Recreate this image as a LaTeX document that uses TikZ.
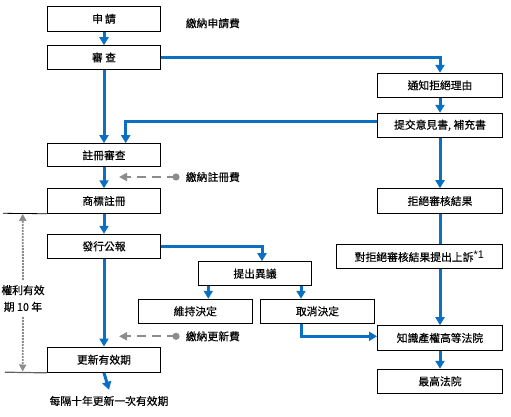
\documentclass[tikz,border=0pt]{standalone}
\usepackage{fontspec}
\setmainfont{Noto Sans CJK TC}[FakeBold=0.35]
\newfontfamily\supfont{Liberation Sans}
\usetikzlibrary{arrows.meta,calc}
\definecolor{fblue}{HTML}{0A70C4}
\definecolor{fgrey}{HTML}{8C8C8C}
\definecolor{dgrey}{HTML}{606060}
\begin{document}
\begin{tikzpicture}[x=1pt,y=-1pt,
  box/.style={draw=black,line width=1pt,fill=white,minimum height=24.5pt,inner sep=0pt,font=\fontsize{10.8}{12}\selectfont},
  flow/.style={draw=fblue,line width=3pt,-{Triangle[width=9pt,length=8pt]}},
  flowline/.style={draw=fblue,line width=3pt},
  fee/.style={draw=fgrey,line width=2pt,dash pattern=on 9pt off 6pt,-{Triangle[width=8pt,length=8pt]}},
  feedot/.style={fill=fgrey},
  lifeline/.style={draw=fgrey,line width=1.8pt,dash pattern=on 1.8pt off 1.2pt,-{Triangle[width=7pt,length=7pt]}},
  lbl/.style={font=\fontsize{10.8}{12}\selectfont,inner sep=0pt}]
\useasboundingbox (0,0) rectangle (511,417);

% left column
\node[box,minimum width=113pt] (a) at (104,18.8) {申\hspace{2pt}請};
\node[box,minimum width=113pt,minimum height=23.6pt] (b) at (104,57.5) {審\hspace{2.5pt}查};
\node[box,minimum width=113pt,minimum height=23.3pt] (c) at (104,155.3) {註冊審查};
\node[box,minimum width=113pt] (d) at (104,201) {商標註冊};
\node[box,minimum width=113pt,minimum height=24pt] (e) at (104,246.3) {發行公報};
\node[box,minimum width=113pt,minimum height=25.3pt] (f) at (104,359.7) {更新有效期};

% right column
\node[box,minimum width=125pt,minimum height=24pt] (g) at (440,85.3) {通知拒絕理由};
\node[box,minimum width=125pt,minimum height=24pt] (h) at (440,125.3) {提交意見書, 補充書};
\node[box,minimum width=125pt,minimum height=24.6pt] (i) at (440,201) {拒絕審核結果};
\node[box,minimum width=166pt,minimum height=24pt] (j) at (419.3,256.3) {對拒絕審核結果提出上訴\raisebox{3pt}{\supfont\fontsize{11}{11}\selectfont *1}};
\node[box,minimum width=125pt,minimum height=24.6pt] (n) at (440,338) {知識產權高等法院};
\node[box,minimum width=125pt,minimum height=24pt] (o) at (440,381.3) {最高法院};

% middle
\node[box,minimum width=113.4pt,minimum height=24pt] (k) at (255,273.7) {提出異議};
\node[box,minimum width=114pt,minimum height=24pt] (l) at (195.3,311.3) {維持決定};
\node[box,minimum width=114.4pt,minimum height=24pt] (m) at (317.5,311.3) {取消決定};

% fee texts
\node[lbl,anchor=west] (feeA) at (185.7,23.3) {繳納申請費};
\node[lbl,anchor=west] (feeB) at (185.7,177) {繳納註冊費};
\node[lbl,anchor=west] (feeC) at (185.7,336.3) {繳納更新費};
\node[lbl] (note) at (109,401) {每隔十年更新一次有效期};
\node[font=\fontsize{10.8}{16.6}\selectfont,inner xsep=0pt,inner ysep=5pt,align=center] (life) at (23,298.5) {權利有效\\期 10 年};

% main flow
\draw[flow] (a.south) -- (b.north);
\draw[flow] (b.south) -- (c.north);
\draw[flow] (c.south) -- (d.north);
\draw[flow] (d.south) -- (e.north);
\draw[flow] (e.south) -- (f.north);
\draw[flow] (f.south) -- ([yshift=6pt]note.north);

\draw[flow] (b.east) -| (g.north);
\draw[flow] (g.south) -- (h.north);
\draw[flow] ([yshift=4pt]h.west) -| ([xshift=21.7pt]c.north);
\draw[flow] (h.south) -- (i.north);
\draw[flowline] (i.south) -- (i.south |- j.north);
\draw[flow] (i.south |- j.south) -- (n.north);
\draw[flow] (n.south) -- (o.north);

\draw[flow] (e.east) -| ([xshift=7pt]k.north);
\coordinate (kl) at ([xshift=-46.7pt]k.south);
\coordinate (km) at ([xshift=46pt]k.south);
\draw[flow] (kl) -- (kl |- l.north);
\draw[flow] (km) -- (km |- m.north);
\coordinate (mn) at ([xshift=-15.8pt]m.south);
\draw[flow] (mn) |- ([yshift=1.7pt]n.west);

% fee arrows
\coordinate (dB) at (176,177);
\coordinate (eB) at (119,177);
\draw[fee] (dB) -- (eB);
\fill[feedot] (dB) circle (3.6pt);
\coordinate (dC) at (176,336.3);
\coordinate (eC) at (119,336.3);
\draw[fee] (dC) -- (eC);
\fill[feedot] (dC) circle (3.6pt);

% validity annotation
\coordinate (lt) at (22.7,213.8);
\coordinate (lb) at (22.7,371.5);
\draw[black,line width=0.8pt] (3,213.3) -- (d.south west);
\draw[dgrey,line width=1.2pt] (5,372.2) -- (f.south west);
\draw[lifeline] (life.north) -- (lt);
\draw[lifeline] (life.south) -- (lb);
\end{tikzpicture}
\end{document}
